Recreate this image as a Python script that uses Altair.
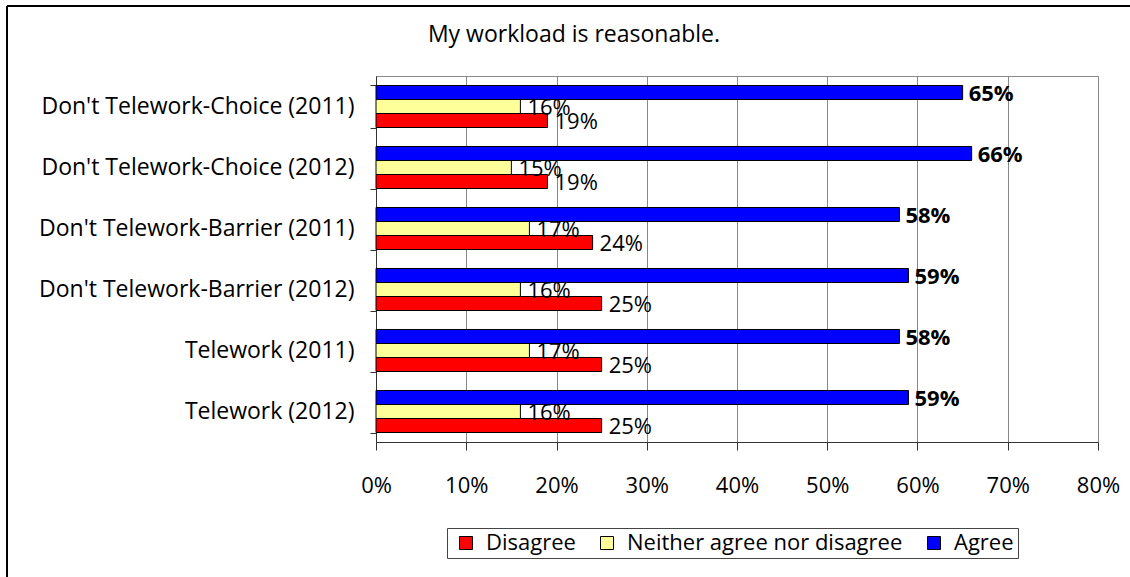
import altair as alt
import pandas as pd

categories = [
    "Don't Telework-Choice (2011)",
    "Don't Telework-Choice (2012)",
    "Don't Telework-Barrier (2011)",
    "Don't Telework-Barrier (2012)",
    "Telework (2011)",
    "Telework (2012)",
]
responses = ["Disagree", "Neither agree nor disagree", "Agree"]
disagree = [19, 19, 24, 25, 25, 25]
neither = [16, 15, 17, 16, 17, 16]
agree = [65, 66, 58, 59, 58, 59]
x_ticks = [0, 0.1, 0.2, 0.3, 0.4, 0.5, 0.6, 0.7, 0.8]
colors = ["#FF0000", "#FFFF99", "#0000FF"]
title_text = "My workload is reasonable."

rows = []
for i, c in enumerate(categories):
    for r, vals in zip(responses, [disagree, neither, agree]):
        rows.append({"Category": c, "Response": r, "Value": vals[i] / 100, "Label": f"{vals[i]}%"})
df = pd.DataFrame(rows)

FONT = "Open Sans"
bar_order = ["Agree", "Neither agree nor disagree", "Disagree"]

y_enc = alt.Y(
    "Category:N",
    sort=categories,
    title=None,
    scale=alt.Scale(paddingInner=0.311, paddingOuter=0.1555),
    axis=alt.Axis(
        labelFontSize=23, labelFont=FONT, labelColor="#000", labelPadding=16,
        tickSize=6, tickBand="extent", tickColor="#333", domainColor="#333",
        labelLimit=400, grid=False,
    ),
)
yoff_enc = alt.YOffset("Response:N", sort=bar_order, scale=alt.Scale(paddingInner=0, paddingOuter=0))
x_enc = alt.X(
    "Value:Q",
    title=None,
    scale=alt.Scale(domain=[0, 0.8], nice=False),
    axis=alt.Axis(
        values=x_ticks, format=".0%", labelFontSize=22, labelFont=FONT, labelColor="#000",
        tickSize=8, tickColor="#333", domainColor="#333", labelPadding=25,
        labelFlush=False, labelOverlap=False,
        grid=True, gridColor="#888", gridOpacity=1,
    ),
)

bars = alt.Chart(df).mark_bar(stroke="#000", strokeWidth=1, opacity=1).encode(
    x=x_enc,
    y=y_enc,
    yOffset=yoff_enc,
    color=alt.Color(
        "Response:N",
        scale=alt.Scale(domain=responses, range=colors),
        legend=alt.Legend(
            title=None, orient="none", legendX=71, legendY=452, direction="horizontal",
            strokeColor="#444", padding=4, symbolType="square", symbolSize=169,
            symbolStrokeColor="#000", symbolStrokeWidth=1, symbolOffset=4,
            labelFontSize=22, labelFont=FONT, labelColor="#000", labelOffset=9,
            columnPadding=16, labelLimit=500, fillColor="#fff",
        ),
    ),
)

labels_norm = alt.Chart(df).transform_filter(alt.datum.Response != "Agree").mark_text(
    align="left", baseline="middle", dx=7, dy=1, fontSize=22, font=FONT, color="#000"
).encode(x="Value:Q", y=alt.Y("Category:N", sort=categories), yOffset=alt.YOffset("Response:N", sort=bar_order), text="Label:N")

labels_bold = alt.Chart(df).transform_filter(alt.datum.Response == "Agree").mark_text(
    align="left", baseline="middle", dx=6, dy=2, fontSize=22, font=FONT, fontWeight="bold", color="#000"
).encode(x="Value:Q", y=alt.Y("Category:N", sort=categories), yOffset=alt.YOffset("Response:N", sort=bar_order), text="Label:N")

one = alt.Data(values=[{"t": title_text}])
title = alt.Chart(one).mark_text(
    align="center", baseline="alphabetic", fontSize=23, font=FONT, color="#000"
).encode(x=alt.value(198), y=alt.value(-34), text="t:N")

frame_top = alt.Chart(alt.Data(values=[{}])).mark_rule(color="#000", strokeWidth=2).encode(
    x=alt.value(-369), x2=alt.value(760), y=alt.value(-70)
)
frame_left = alt.Chart(alt.Data(values=[{}])).mark_rule(color="#000", strokeWidth=2).encode(
    x=alt.value(-369), y=alt.value(-70), y2=alt.value(520)
)

chart = alt.layer(bars, labels_norm, labels_bold, title, frame_top, frame_left).properties(
    width=722, height=366,
    autosize=alt.AutoSizeParams(type="none"),
    padding={"left": 376, "top": 76, "right": 32, "bottom": 135},
    background="#fff",
).configure_view(stroke="#888", strokeWidth=1)

chart.save("out.html", embed_options={"renderer": "svg", "actions": False})
